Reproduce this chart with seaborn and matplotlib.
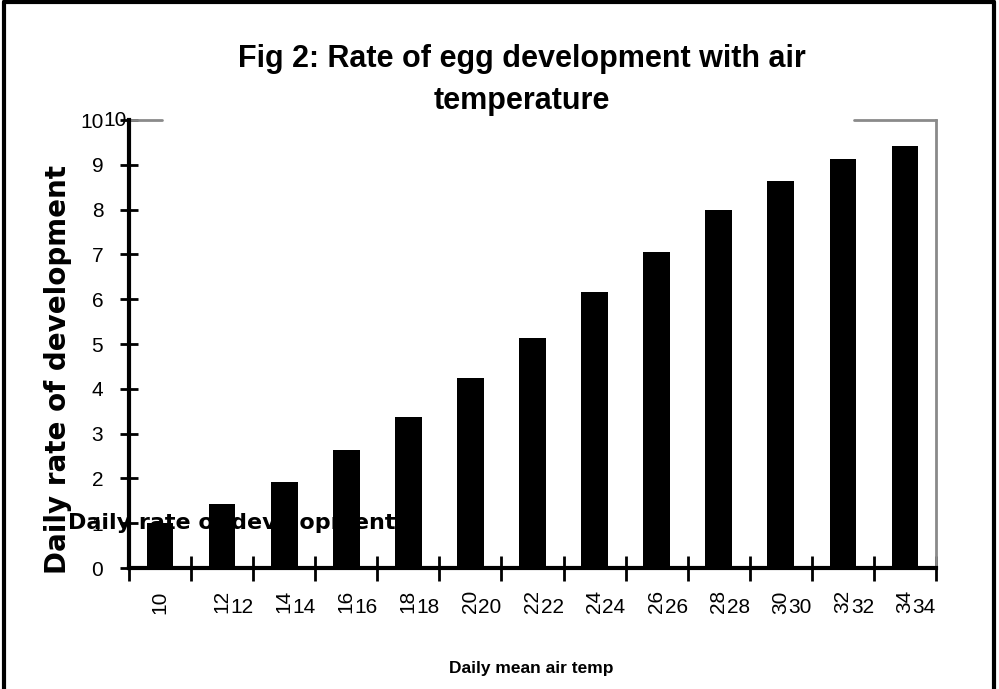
import pandas as pd
import seaborn as sns
import matplotlib.pyplot as plt
import matplotlib.transforms as mtransforms
from matplotlib.lines import Line2D

# datos
temperaturas = ["10", "12", "14", "16", "18", "20", "22", "24", "26", "28", "30", "32", "34"]
tasa_desarrollo = [1.01, 1.44, 1.93, 2.63, 3.36, 4.25, 5.14, 6.15, 7.05, 8.0, 8.65, 9.13, 9.43]
y_ticks = [0, 1, 2, 3, 4, 5, 6, 7, 8, 9, 10]

df = pd.DataFrame({"temp": temperaturas, "tasa": tasa_desarrollo})

sns.set_style("white")
plt.rcParams['font.family'] = ['Liberation Sans', 'DejaVu Sans']
plt.rcParams['text.color'] = 'black'
plt.rcParams['axes.labelcolor'] = 'black'
plt.rcParams['xtick.color'] = 'black'
plt.rcParams['ytick.color'] = 'black'

fig = plt.figure(figsize=(9.99, 6.89), dpi=100)
ax = fig.add_axes([0.1291, 0.1756, 0.8078, 0.6502])

sns.barplot(data=df, x="temp", y="tasa", color="black", saturation=1,
            width=0.43, linewidth=0, ax=ax)
for p in ax.patches:
    p.set_zorder(2)

ax.set_xlim(-0.5, len(temperaturas) - 0.5)
ax.set_ylim(0, 10)

# --- ejes ---
for s in ["left", "bottom"]:
    ax.spines[s].set_color("black")
    ax.spines[s].set_linewidth(3)
ax.spines["right"].set_color("#8a8a8a")
ax.spines["right"].set_linewidth(2)
ax.spines["top"].set_visible(False)
# el borde superior queda tapado por el titulo en el centro
ax.plot([0, 0.041], [1, 1], color="#8a8a8a", lw=2, transform=ax.transAxes, clip_on=False)
ax.plot([0.898, 1], [1, 1], color="#8a8a8a", lw=2, transform=ax.transAxes, clip_on=False)

ax.set_yticks(y_ticks)
ax.set_yticklabels([str(v) for v in y_ticks])
ax.tick_params(axis="y", direction="inout", length=13, width=2,
               labelsize=15, pad=12, left=True)
# etiqueta 10 duplicada como en el original
trans_y = mtransforms.blended_transform_factory(ax.transAxes, ax.transData)
ax.annotate("10", xy=(0, y_ticks[-1]), xycoords=trans_y, xytext=(-1.8, 0),
            textcoords="offset points", ha="right", va="center", fontsize=15)

# ticks mayores en los limites de cada categoria
n = len(temperaturas)
ax.set_xticks([i - 0.5 for i in range(n + 1)])
ax.set_xticklabels([""] * (n + 1))
ax.tick_params(axis="x", which="major", direction="inout", length=18, width=2,
               bottom=True)
# etiquetas giradas en el centro
ax.set_xticks(range(n), minor=True)
ax.set_xticklabels(temperaturas, minor=True, rotation=90, fontsize=15)
ax.tick_params(axis="x", which="minor", length=0, pad=16)
# etiquetas horizontales repetidas
trans_x = mtransforms.blended_transform_factory(ax.transData, ax.transAxes)
for i in range(1, n):
    ax.text(i + 0.5, -0.089, temperaturas[i], transform=trans_x, ha="right",
            va="center", fontsize=15, clip_on=False)

ax.set_xlabel("Daily mean air temp", fontsize=12.5, fontweight="bold")
ax.xaxis.set_label_coords(0.498, -0.207)
ax.set_ylabel("Daily rate of development", fontsize=20, fontweight="bold",
              family="DejaVu Sans")
ax.yaxis.set_label_coords(-0.07, 0.444)

# texto de leyenda que queda detras de las barras
ax.text(-0.0756, 1.0, "Daily rate of development", transform=trans_y, ha="left",
        va="center", fontsize=16, fontweight="bold", family="DejaVu Sans",
        zorder=1.5, clip_on=False)

fig.text(0.522, 0.884, "Fig 2: Rate of egg development with air\ntemperature",
         ha="center", va="center", fontsize=22, fontweight="bold", linespacing=1.5)

# marco de la figura
fig.add_artist(Line2D([0.004, 0.004], [0, 0.997], color="black", lw=3))
fig.add_artist(Line2D([0.004, 0.995], [0.997, 0.997], color="black", lw=3))
fig.add_artist(Line2D([0.995, 0.995], [0.997, 0], color="black", lw=3))

fig.savefig("out.png", dpi=100)
